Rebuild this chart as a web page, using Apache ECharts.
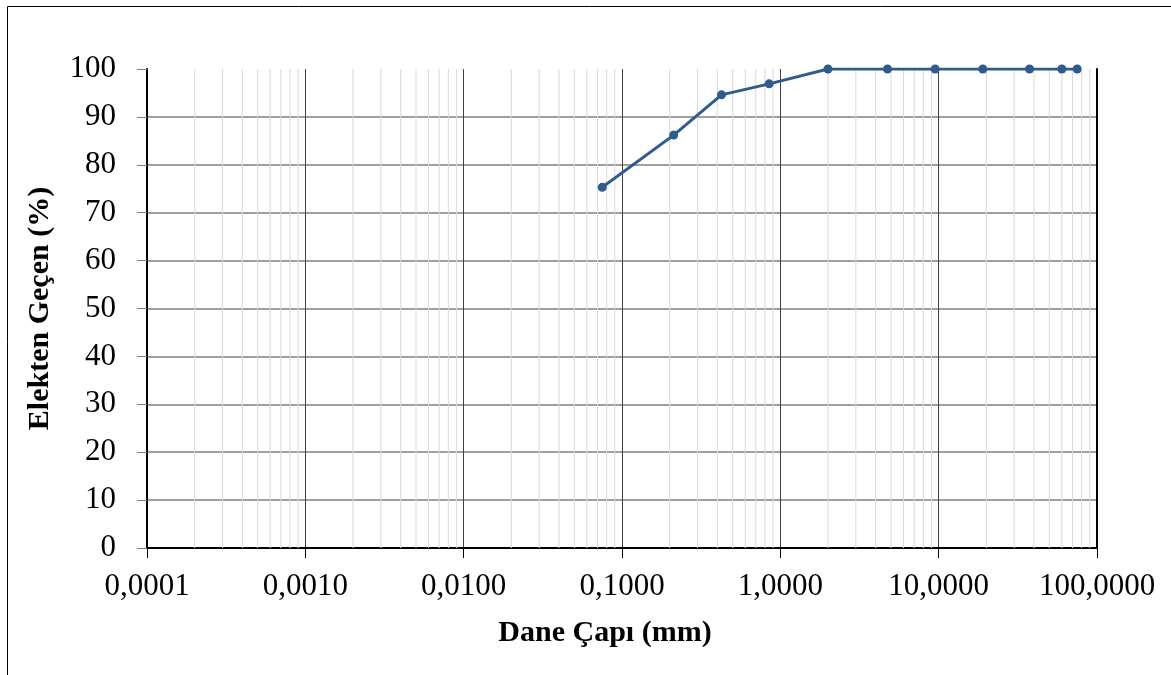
<!DOCTYPE html>
<html>
<head>
<meta charset="utf-8">
<script src="https://cdn.jsdelivr.net/npm/echarts@6/dist/echarts.min.js"></script>
<style>html,body{margin:0;padding:0;background:#fff}#c{width:1171px;height:675px}</style>
</head>
<body>
<div id="c"></div>
<script>
// Data
const sieveSizes = [0.075, 0.212, 0.425, 0.85, 2.0, 4.75, 9.5, 19, 37.5, 60, 75];
const passingPct = [75.3, 86.2, 94.6, 96.9, 100, 100, 100, 100, 100, 100, 100];
const xTitle = 'Dane Çapı (mm)';
const yTitle = 'Elekten Geçen (%)';
const decades = [0.0001, 0.001, 0.01, 0.1, 1, 10];
const minorMultipliers = [2, 3, 4, 5, 6, 7, 8, 9];

// minor gridline segments (drawn through the axes as data pairs)
const minorSegs = [];
decades.forEach(d => minorMultipliers.forEach(m => {
  const v = +(d * m).toPrecision(6);
  minorSegs.push([v, 0], [v, 100], '-');
}));

const FONT = '"Liberation Serif", "Times New Roman", serif';
const chart = echarts.init(document.getElementById('c'));
const fmt = v => Number(v).toFixed(4).replace('.', ',');

chart.setOption({
  backgroundColor: '#fff',
  animation: false,
  graphic: [{
    type: 'rect', shape: { x: 7.5, y: 6.5, width: 1300, height: 800 },
    style: { fill: 'none', stroke: '#000', lineWidth: 1 }, silent: true, z: -10
  }],
  grid: { left: 147, right: 74, top: 69, bottom: 127, containLabel: false },
  xAxis: [{
    type: 'log', logBase: 10, min: 0.0001, max: 100,
    name: xTitle, nameLocation: 'middle', nameGap: 70,
    nameTextStyle: { fontFamily: FONT, fontSize: 30, fontWeight: 'bold', color: '#000', padding: [0, 34, 0, 0] },
    axisLine: { show: true, onZero: false, lineStyle: { color: '#000', width: 2 } },
    axisTick: { show: true, length: 10, lineStyle: { color: '#000', width: 1 } },
    axisLabel: { fontFamily: FONT, fontSize: 31, color: '#000', margin: 23, formatter: fmt },
    splitLine: { show: true, showMinLine: false, showMaxLine: false, lineStyle: { color: '#404040', width: 1 } },
    minorTick: { show: false }, minorSplitLine: { show: false }
  }, {
    type: 'log', logBase: 10, min: 0.0001, max: 100, position: 'top',
    axisLine: { show: true, lineStyle: { color: '#000', width: 2 } },
    axisTick: { show: false }, axisLabel: { show: false }, splitLine: { show: false }
  }],
  yAxis: [{
    type: 'value', min: 0, max: 100, interval: 10,
    name: yTitle, nameLocation: 'middle', nameGap: 92, nameRotate: 90,
    nameTextStyle: { fontFamily: FONT, fontSize: 30, fontWeight: 'bold', color: '#000' },
    axisLine: { show: true, lineStyle: { color: '#000', width: 2 } },
    axisTick: { show: true, length: 10, lineStyle: { color: '#808080', width: 1 } },
    axisLabel: { fontFamily: FONT, fontSize: 31, color: '#000', margin: 31 },
    splitLine: { show: true, showMinLine: false, showMaxLine: false, lineStyle: { color: '#808080', width: 1.5 } }
  }, {
    type: 'value', min: 0, max: 100, interval: 10, position: 'right',
    axisLine: { show: true, lineStyle: { color: '#000', width: 2 } },
    axisTick: { show: false }, axisLabel: { show: false }, splitLine: { show: false }
  }],
  series: [{
    type: 'line', data: minorSegs, silent: true, z: 1,
    symbol: 'none', connectNulls: false,
    lineStyle: { color: '#d9d9d9', width: 1 },
    emphasis: { disabled: true }
  }, {
    type: 'line', z: 5,
    data: sieveSizes.map((s, i) => [s, passingPct[i]]),
    lineStyle: { color: '#2f5b8f', width: 3 },
    itemStyle: { color: '#2f5b8f' },
    symbol: 'circle', symbolSize: 9, showSymbol: true
  }]
});
</script>
</body>
</html>
